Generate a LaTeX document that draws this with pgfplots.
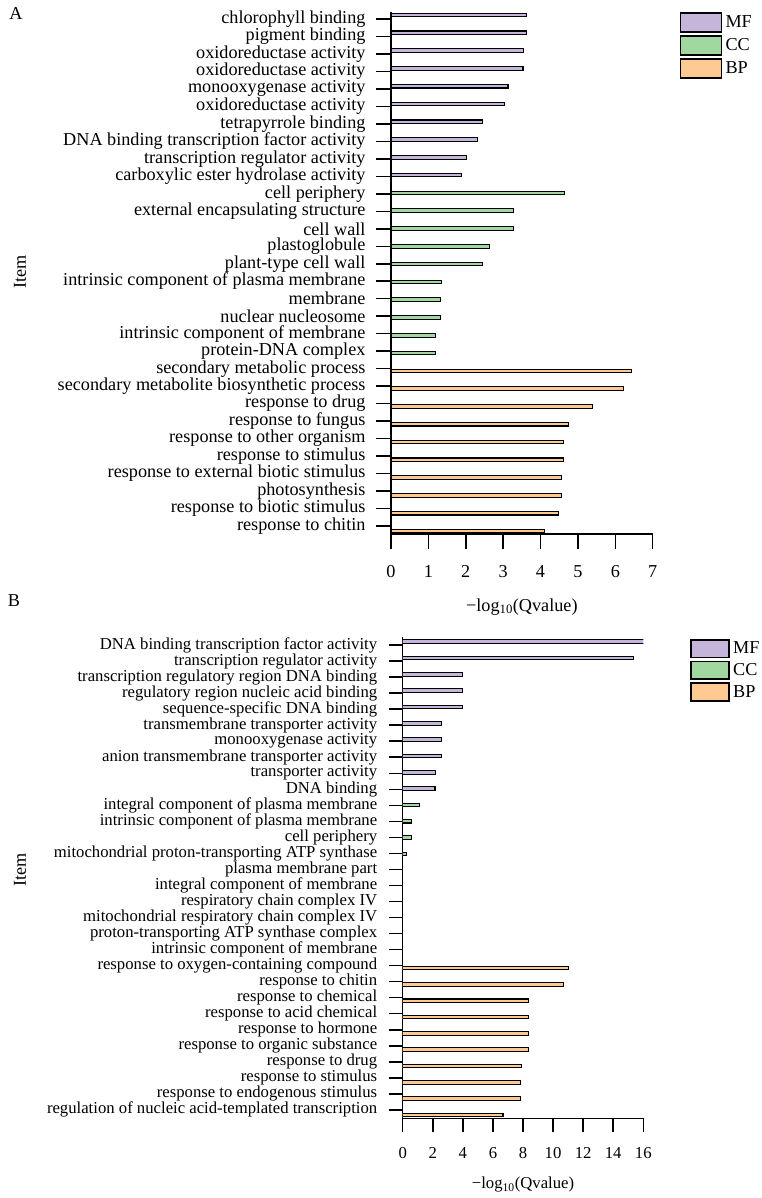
\documentclass[border=0pt]{standalone}
\usepackage{pgfplots}
\pgfplotsset{compat=1.18}
\usepackage{fontspec}
\setmainfont{Liberation Serif}
\definecolor{MF}{RGB}{197,181,218}
\definecolor{CC}{RGB}{161,216,160}
\definecolor{BP}{RGB}{255,201,147}
\newcommand{\fA}{\fontsize{18.2bp}{20bp}\selectfont}
\newcommand{\fB}{\fontsize{16.7bp}{18bp}\selectfont}
\pgfplotsset{
  boxlegA/.style={legend image code/.code={\draw[##1,line width=1.8bp] (0bp,-9.5bp) rectangle (41bp,9.5bp);}},
  boxlegB/.style={legend image code/.code={\draw[##1,line width=1.8bp] (0bp,-8.8bp) rectangle (38bp,8.8bp);}},
  common/.style={
    scale only axis,
    axis x line*=bottom, axis y line*=left,
    xbar, bar shift=0pt,
    tick align=outside,
    axis line style={line width=1.5bp,black},
    tick style={line width=1.5bp,black},
    every axis plot/.append style={draw=black,line width=1.1bp},
    /pgf/number format/assume math mode=true,
    legend cell align=left,
  }
}
\begin{document}
\begin{tikzpicture}
\useasboundingbox (0,0) rectangle (762bp,-1198bp);
\node[font=\fA] at (16bp,-13bp) {A};
\node[font=\fA] at (14bp,-601bp) {B};
\node[font=\fA,rotate=90] at (20bp,-272bp) {Item};
\node[font=\fA,rotate=90] at (20bp,-870bp) {Item};
% ---------------- Panel A
\begin{axis}[common,
  at={(391bp,-534bp)}, anchor=south west,
  width=261.7bp, height=522bp,
  xmin=0, xmax=7, ymin=-0.169, ymax=29.169,
  bar width=3.6bp,
  major tick length=15bp,
  xtick={0,1,...,7},
  ytick={0.281,1.26357,...,28.8},
  yticklabels={response to chitin,response to biotic stimulus,photosynthesis,response to external biotic stimulus,response to stimulus,response to other organism,response to fungus,response to drug,secondary metabolite biosynthetic process,secondary metabolic process,protein-DNA complex,intrinsic component of membrane,nuclear nucleosome,membrane,intrinsic component of plasma membrane,plant-type cell wall,plastoglobule,cell wall,external encapsulating structure,cell periphery,carboxylic ester hydrolase activity,transcription regulator activity,DNA binding transcription factor activity,tetrapyrrole binding,oxidoreductase activity,monooxygenase activity,oxidoreductase activity,oxidoreductase activity,pigment binding,chlorophyll binding},
  tick label style={font=\fA},
  yticklabel style={xshift=-7bp},
  xticklabel style={yshift=-13bp},
  xlabel={−log\textsubscript{10}(Qvalue)},
  xlabel style={font=\fA,yshift=-14bp},
  legend style={at={(1,1)}, anchor=north west, xshift=27bp, draw=none, fill=none,
    inner sep=0pt, outer sep=0pt, row sep=2.3bp, font=\fA,
    nodes={inner sep=0pt}},
]
\addplot[fill=MF,boxlegA] coordinates {(3.63,29) (3.63,28) (3.54,27) (3.53,26) (3.13,25) (3.04,24) (2.44,23) (2.32,22) (2.02,21) (1.89,20)};
\addlegendentry{\,MF}
\addplot[fill=CC,boxlegA] coordinates {(4.64,19) (3.27,18) (3.27,17) (2.64,16) (2.44,15) (1.34,14) (1.32,13) (1.32,12) (1.20,11) (1.19,10)};
\addlegendentry{\,CC}
\addplot[fill=BP,boxlegA] coordinates {(6.43,9) (6.22,8) (5.40,7) (4.74,6) (4.61,5) (4.61,4) (4.56,3) (4.56,2) (4.48,1) (4.11,0)};
\addlegendentry{\,BP}
\end{axis}
% ---------------- Panel B
\begin{axis}[common,
  at={(402.7bp,-1118.3bp)}, anchor=south west,
  width=240.6bp, height=481.3bp,
  xmin=0, xmax=16, ymin=-0.202, ymax=29.288,
  bar width=3.6bp,
  major tick length=14bp,
  xtick={0,2,...,16},
  ytick={0.3125,1.29473,...,29},
  yticklabels={regulation of nucleic acid-templated transcription,response to endogenous stimulus,response to stimulus,response to drug,response to organic substance,response to hormone,response to acid chemical,response to chemical,response to chitin,response to oxygen-containing compound,intrinsic component of membrane,proton-transporting ATP synthase complex,mitochondrial respiratory chain complex IV,respiratory chain complex IV,integral component of membrane,plasma membrane part,mitochondrial proton-transporting ATP synthase,cell periphery,intrinsic component of plasma membrane,integral component of plasma membrane,DNA binding,transporter activity,anion transmembrane transporter activity,monooxygenase activity,transmembrane transporter activity,sequence-specific DNA binding,regulatory region nucleic acid binding,transcription regulatory region DNA binding,transcription regulator activity,DNA binding transcription factor activity},
  tick label style={font=\fB},
  yticklabel style={xshift=-8bp},
  xticklabel style={yshift=-12bp},
  xlabel={−log\textsubscript{10}(Qvalue)},
  xlabel style={font=\fB,yshift=-11bp},
  legend style={at={(1,1)}, anchor=north west, xshift=47bp, yshift=-2bp, draw=none, fill=none,
    inner sep=0pt, outer sep=0pt, row sep=2.2bp, font=\fA,
    nodes={inner sep=0pt}},
]
\addplot[fill=MF,boxlegB] coordinates {(16.33,29) (15.36,28) (3.99,27) (3.99,26) (3.99,25) (2.61,24) (2.61,23) (2.57,22) (2.19,21) (2.15,20)};
\addlegendentry{\,MF}
\addplot[fill=CC,boxlegB] coordinates {(1.10,19) (0.60,18) (0.61,17) (0.26,16)};
\addlegendentry{\,CC}
\addplot[fill=BP,boxlegB] coordinates {(11.01,9) (10.70,8) (8.38,7) (8.36,6) (8.38,5) (8.38,4) (7.93,3) (7.82,2) (7.82,1) (6.67,0)};
\addlegendentry{\,BP}
\end{axis}
\end{tikzpicture}
\end{document}
